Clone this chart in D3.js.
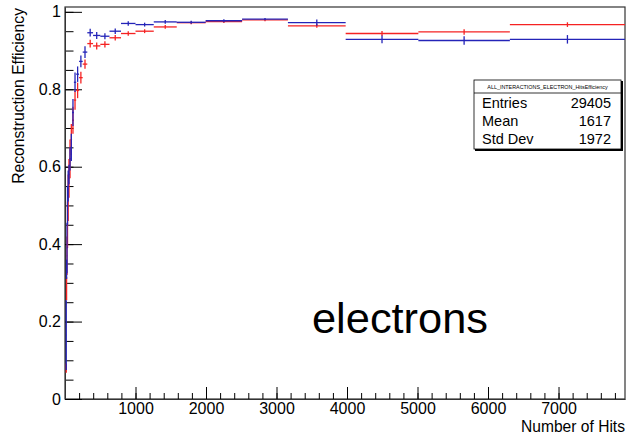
<!DOCTYPE html>
<html>
<head>
<meta charset="utf-8">
<script src="https://cdn.jsdelivr.net/npm/d3@7"></script>
<style>
  body { margin: 0; background: #fff; }
  text { font-family: "Liberation Sans", Arial, sans-serif; }
</style>
</head>
<body>
<script>
// bin edges (log binning), number of hits
const binEdges = [15.85, 19.95, 25.12, 31.62, 39.81, 50.12, 63.10, 79.43, 100, 125.9, 158.5, 199.5,
  251.2, 316.2, 398.1, 501.2, 631.0, 794.3, 1000, 1259, 1585, 1995, 2512, 3162, 3981, 5012, 6310, 7943];

// efficiency, red series
const redEff = [0.08, 0.285, 0.37, 0.45, 0.52, 0.57, 0.62, 0.67, 0.72, 0.772, 0.797, 0.830, 0.865, 0.918,
  0.912, 0.916, 0.933, 0.944, 0.950, 0.961, 0.972, 0.975, 0.979, 0.964, 0.944, 0.948, 0.967];
const redErr = [0.012, 0.03, 0.05, 0.06, 0.06, 0.05, 0.05, 0.04, 0.035, 0.025, 0.02, 0.015, 0.012, 0.01,
  0.009, 0.008, 0.007, 0.006, 0.005, 0.005, 0.004, 0.004, 0.003, 0.005, 0.0065, 0.007, 0.006];

// efficiency, blue series
const blueEff = [0.165, 0.335, 0.39, 0.50, 0.55, 0.58, 0.62, 0.65, 0.74, 0.818, 0.839, 0.872, 0.896, 0.946,
  0.939, 0.937, 0.950, 0.970, 0.967, 0.974, 0.973, 0.977, 0.981, 0.972, 0.929, 0.926, 0.929];
const blueErr = [0.09, 0.025, 0.065, 0.05, 0.04, 0.025, 0.03, 0.035, 0.035, 0.025, 0.02, 0.015, 0.015, 0.01,
  0.009, 0.008, 0.007, 0.006, 0.005, 0.005, 0.004, 0.004, 0.003, 0.008, 0.010, 0.011, 0.011];

const xLabels = [1000, 2000, 3000, 4000, 5000, 6000, 7000];
const yLabels = [0, 0.2, 0.4, 0.6, 0.8, 1];
const statNames = ["Entries", "Mean", "Std Dev"];
const statValues = ["29405", "1617", "1972"];

const svg = d3.select("body").append("svg")
    .attr("width", 628)
    .attr("height", 438);

const x = d3.scaleLinear().domain([0, 7943]).range([65, 625]);
const y = d3.scaleLinear().domain([0, 1.0125]).range([399, 7]);

// cadre
svg.append("rect")
    .attr("x", 65).attr("y", 7)
    .attr("width", 560).attr("height", 392)
    .attr("fill", "none")
    .attr("stroke", "#333")
    .attr("stroke-width", 1.2);

// axe x
const xMinor = d3.range(0, 7943, 200);
svg.append("g")
    .attr("transform", "translate(0,399)")
    .call(d3.axisBottom(x).tickValues(xMinor).tickSizeInner(-6).tickSizeOuter(0).tickFormat(""))
    .call(g => g.select(".domain").remove());
svg.append("g")
    .attr("transform", "translate(0,399)")
    .call(d3.axisBottom(x).tickValues(xLabels).tickSizeInner(-12).tickSizeOuter(0).tickPadding(3.5).tickFormat(d3.format("d")))
    .call(g => g.select(".domain").attr("stroke", "#333"))
    .call(g => g.selectAll("text").attr("font-size", 16).attr("fill", "#000"));

// axe y
svg.append("g")
    .attr("transform", "translate(65,0)")
    .call(d3.axisLeft(y).tickValues(d3.range(0, 1.01, 0.05)).tickSizeInner(-8.5).tickSizeOuter(0).tickFormat(""))
    .call(g => g.select(".domain").remove());
svg.append("g")
    .attr("transform", "translate(65,0)")
    .call(d3.axisLeft(y).tickValues(yLabels).tickSizeInner(-17).tickSizeOuter(0).tickPadding(4).tickFormat(d => d))
    .call(g => g.select(".domain").attr("stroke", "#333"))
    .call(g => g.selectAll("text").attr("font-size", 16).attr("fill", "#000"));

// titres
svg.append("text")
    .attr("x", 625).attr("y", 432)
    .attr("text-anchor", "end")
    .attr("font-size", 15.6)
    .text("Number of Hits");

svg.append("text")
    .attr("transform", "translate(24,8) rotate(-90)")
    .attr("text-anchor", "end")
    .attr("font-size", 15.7)
    .text("Reconstruction Efficiency");

// histogrammes
function drawSeries(eff, err, color) {
  const bins = eff.map((v, i) => ({lo: binEdges[i], hi: binEdges[i + 1], v: v, e: err[i]}));
  const g = svg.append("g").attr("stroke", color).attr("stroke-width", 1.3);
  g.selectAll("line.h").data(bins).join("line")
      .attr("class", "h")
      .attr("x1", d => x(d.lo)).attr("x2", d => x(d.hi))
      .attr("y1", d => y(d.v)).attr("y2", d => y(d.v));
  g.selectAll("line.v").data(bins).join("line")
      .attr("class", "v")
      .attr("x1", d => x((d.lo + d.hi) / 2)).attr("x2", d => x((d.lo + d.hi) / 2))
      .attr("y1", d => y(d.v - d.e)).attr("y2", d => y(Math.min(d.v + d.e, 1)));
}
drawSeries(redEff, redErr, "#f52222");
drawSeries(blueEff, blueErr, "#2424b8");

// boite de stats
svg.append("rect")
    .attr("x", 475).attr("y", 81)
    .attr("width", 148).attr("height", 70)
    .attr("fill", "#000");
svg.append("rect")
    .attr("x", 474).attr("y", 80)
    .attr("width", 147).attr("height", 69)
    .attr("fill", "#fff")
    .attr("stroke", "#000")
    .attr("stroke-width", 0.8);
svg.append("line")
    .attr("x1", 474).attr("x2", 621)
    .attr("y1", 93).attr("y2", 93)
    .attr("stroke", "#000")
    .attr("stroke-width", 0.8);
svg.append("text")
    .attr("x", 547.5).attr("y", 88.5)
    .attr("text-anchor", "middle")
    .attr("font-size", 5.4)
    .text("ALL_INTERACTIONS_ELECTRON_HitsEfficiency");

const rowY = [107.5, 125.5, 143.5];
svg.selectAll("text.sname").data(statNames).join("text")
    .attr("class", "sname")
    .attr("x", 482).attr("y", (d, i) => rowY[i])
    .attr("font-size", 14.5)
    .text(d => d);
svg.selectAll("text.sval").data(statValues).join("text")
    .attr("class", "sval")
    .attr("x", 611).attr("y", (d, i) => rowY[i])
    .attr("text-anchor", "end")
    .attr("font-size", 14.5)
    .text(d => d);

// annotation
svg.append("text")
    .attr("x", 312).attr("y", 333)
    .attr("font-family", "Lato, 'Open Sans', sans-serif")
    .attr("font-size", 42)
    .attr("textLength", 176)
    .attr("lengthAdjust", "spacingAndGlyphs")
    .text("electrons");
</script>
</body>
</html>
